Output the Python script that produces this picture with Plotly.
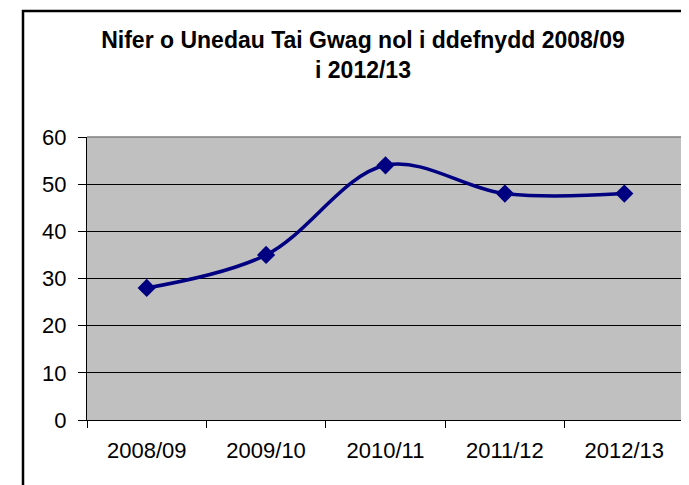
import plotly.graph_objects as go

categories = ["2008/09", "2009/10", "2010/11", "2011/12", "2012/13"]
values = [28, 35, 54, 48, 48]
y_ticks = [0, 10, 20, 30, 40, 50, 60]
title_text = "Nifer o Unedau Tai Gwag nol i ddefnydd 2008/09<br>i 2012/13"

# page body has an 8px margin, so the figure is drawn 8px in from the window edge
W, H = 681, 477
ML, MR, MT, MB = 79, 5, 129, 65
PW, PH = W - ML - MR, H - MT - MB

def px_x(p):
    return (p - ML) / PW

def px_y(p):
    return (H - MB - p) / PH

fig = go.Figure()
fig.add_trace(go.Scatter(
    x=categories, y=values, mode="lines+markers",
    line=dict(color="#000080", width=3.5, shape="spline", smoothing=1),
    marker=dict(symbol="diamond", size=14, color="#000080"),
    showlegend=False, cliponaxis=False,
))

font = "Liberation Sans, Arial, sans-serif"
fig.update_layout(
    width=W, height=H,
    margin=dict(l=ML, r=MR, t=MT, b=MB, pad=0),
    paper_bgcolor="white", plot_bgcolor="#C0C0C0",
    font=dict(family=font, color="black", size=22),
    title=dict(text=title_text, x=355 / W, xanchor="center",
               y=1 - 40 / H, yanchor="top",
               font=dict(family=font, size=23, color="black", weight="bold")),
    xaxis=dict(type="category", showgrid=False, showline=True, linecolor="black",
               linewidth=1, ticks="outside", tickson="boundaries", ticklen=7,
               tickcolor="black", tickfont=dict(size=22), range=[-0.5, 4.5],
               ticklabelstandoff=11),
    yaxis=dict(range=[0, 60], tickvals=y_ticks, showgrid=True, gridcolor="black",
               gridwidth=1, showline=True, linecolor="black", linewidth=1,
               ticks="outside", ticklen=8, tickcolor="black", zeroline=False,
               tickfont=dict(size=22), ticklabelstandoff=7),
    shapes=[
        dict(type="rect", xref="paper", yref="paper",
             x0=px_x(15), x1=px_x(W + 5), y0=px_y(H + 5), y1=px_y(3),
             line=dict(color="black", width=2.5), layer="below"),
        dict(type="line", xref="paper", yref="paper", x0=0, x1=1, y0=1, y1=1,
             line=dict(color="#808080", width=1.5), layer="above"),
        dict(type="line", xref="paper", yref="paper", x0=1, x1=1, y0=0, y1=1,
             line=dict(color="#808080", width=1.5), layer="above"),
    ],
)
fig.write_html("out.html")
